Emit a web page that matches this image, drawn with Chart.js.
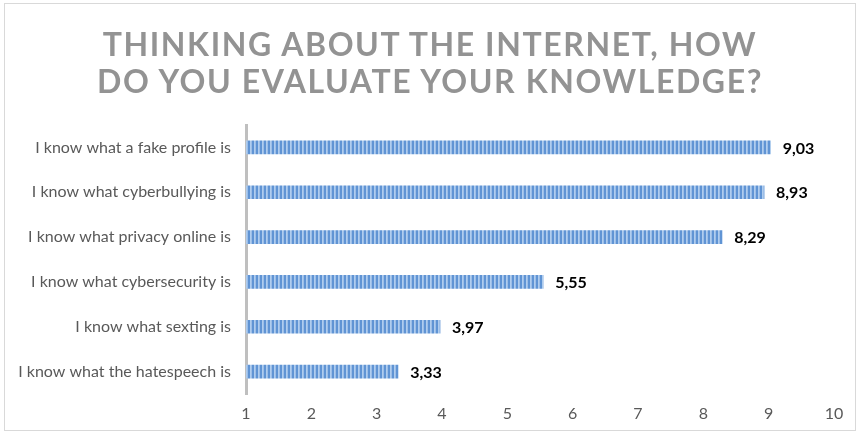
<!DOCTYPE html>
<html lang="en">

<head>
  <meta charset="UTF-8">
  <title>Knowledge chart</title>
  <script src="https://cdn.jsdelivr.net/npm/chart.js"></script>
  <style>
    body { margin: 0; background: #fff; }
    #wrap { position: relative; width: 860px; height: 434px; }
    #frame { position: absolute; left: 4px; top: 3px; width: 850px; height: 426px; border: 1px solid #d9d9d9; pointer-events: none; }
    #titulo {
      position: absolute; left: 0; top: 25px; width: 860px; text-align: center;
      font-family: Lato, sans-serif; font-weight: bold; font-size: 32px; line-height: 37px;
      letter-spacing: 1.6px; color: #939393; margin: 0;
    }
  </style>
</head>

<body>
  <div id="wrap">
    <canvas id="grafico" width="860" height="434"></canvas>
    <div id="frame"></div>
    <h1 id="titulo">THINKING ABOUT THE INTERNET, HOW<br>DO YOU EVALUATE YOUR KNOWLEDGE?</h1>
  </div>
</body>

</html>
<script>
  var categorias = [
    'I know what a fake profile is',
    'I know what cyberbullying is',
    'I know what privacy online is',
    'I know what cybersecurity is',
    'I know what sexting is',
    'I know what the hatespeech is'
  ];
  var notas = [9.03, 8.93, 8.29, 5.55, 3.97, 3.33];
  var escalaMin = 1;
  var escalaMax = 10;

  // listras verticais azuis
  function criarListras() {
    const c = document.createElement('canvas');
    c.width = 4; c.height = 4;
    const g = c.getContext('2d');
    g.fillStyle = '#6094d4';
    g.fillRect(0, 0, 4, 4);
    g.fillStyle = '#b0cdee';
    g.fillRect(2, 0, 1, 4);
    g.fillStyle = '#9cbee8';
    g.fillRect(3, 0, 1, 4);
    return document.getElementById('grafico').getContext('2d').createPattern(c, 'repeat');
  }

  const rotulosValor = {
    id: 'rotulosValor',
    afterDatasetsDraw(chart) {
      const ctx = chart.ctx;
      const meta = chart.getDatasetMeta(0);
      ctx.save();
      ctx.font = 'bold 16px Lato, sans-serif';
      ctx.fillStyle = '#000';
      ctx.textAlign = 'left';
      ctx.textBaseline = 'middle';
      meta.data.forEach(function (bar, i) {
        ctx.fillText(notas[i].toFixed(2).replace('.', ','), bar.x + 12, bar.y + 1);
      });
      ctx.restore();
    }
  };

  new Chart(document.getElementById('grafico'), {
    type: 'bar',
    data: {
      labels: categorias,
      datasets: [{
        data: notas,
        base: escalaMin,
        backgroundColor: criarListras(),
        barThickness: 13
      }]
    },
    options: {
      indexAxis: 'y',
      responsive: false,
      animation: false,
      layout: { padding: { top: 125, right: 26, left: 0, bottom: 0 } },
      plugins: {
        legend: { display: false },
        tooltip: { enabled: false }
      },
      scales: {
        x: {
          min: escalaMin,
          max: escalaMax,
          grid: { display: false, drawTicks: false },
          border: { display: false },
          ticks: { stepSize: 1, color: '#595959', padding: 10, font: { family: 'Lato', size: 16 } },
          afterFit: function (s) { s.height = 40; }
        },
        y: {
          grid: { display: false, drawTicks: false },
          border: { display: true, color: '#bfbfbf', width: 3 },
          ticks: { color: '#595959', padding: 15, font: { family: 'Lato', size: 16 } },
          afterFit: function (s) { s.width = 246; }
        }
      }
    },
    plugins: [rotulosValor]
  });
</script>
